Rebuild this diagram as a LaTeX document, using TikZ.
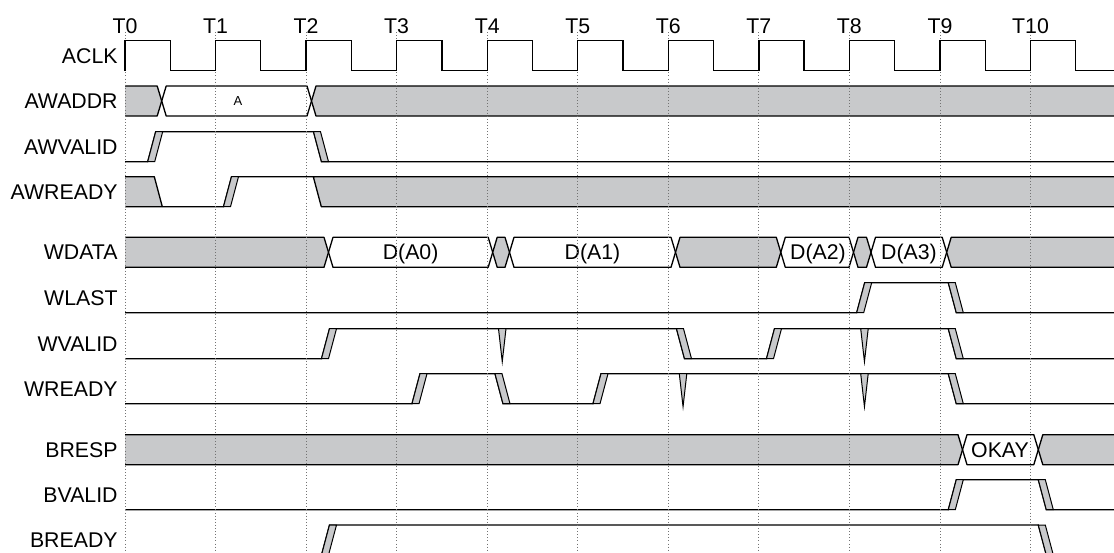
\documentclass[tikz,border=0pt]{standalone}
\usepackage{fontspec}
\setmainfont{Liberation Sans}
\definecolor{busgray}{RGB}{200,201,203}
\tikzset{
  sig/.style={line width=0.65pt},
  slope/.style={fill=busgray, draw, line width=0.5pt},
  bus/.style={draw, line width=0.65pt, line join=bevel},
  graybus/.style={bus, fill=busgray},
  timeline/.style={black!55, line width=0.45pt, dash pattern=on 0.45pt off 1.1pt},
  lbl/.style={font=\fontsize{10.65}{12}\selectfont, inner sep=0pt, text height=7.6pt, text depth=0pt}
}
% transitions, in a row frame with high at 0 and low at 30
\newcommand{\riseedge}[1]{\path[slope] (#1,30) -- (#1+7,30) -- (#1+15,0) -- (#1+8,0) -- cycle;}
\newcommand{\falledge}[1]{\path[slope] (#1,0) -- (#1+7,0) -- (#1+15,30) -- (#1+8,30) -- cycle;}
\newcommand{\glitch}[1]{\path[slope] (#1,0) -- (#1+7.5,0) -- (#1+3.75,33) -- cycle;}
\newcommand{\busseg}[3]{\path[#3] (#1,15) -- (#1+4.5,0) -- (#2-4.5,0) -- (#2,15) -- (#2-4.5,30) -- (#1+4.5,30) -- cycle;}
\begin{document}
\begin{tikzpicture}[x=0.5pt,y=-0.5pt]
  \path[use as bounding box] (0,0) rectangle (1114,552);
  \clip (0,0) rectangle (1114,552);

  \begin{scope}
    \clip (125,0) rectangle (1114,560);
    % AWADDR
    \begin{scope}[shift={(0,86)}]
      \busseg{120}{161.7}{graybus}
      \busseg{161.7}{311.5}{bus}
      \busseg{311.5}{1119}{graybus}
      \node[lbl, font=\fontsize{6.5}{8}\selectfont, text height=4.65pt] (addrA) at (238,15) {A};
    \end{scope}
    % AWVALID
    \begin{scope}[shift={(0,131.7)}]
      \draw[sig] (120,30) -- (147.7,30) -- (155.7,0) -- (313.5,0) -- (321.5,30) -- (1119,30);
      \riseedge{147.7} \falledge{313.5}
    \end{scope}
    % AWREADY
    \begin{scope}[shift={(0,176.7)}]
      \path[graybus] (120,0) -- (154.3,0) -- (162.3,30) -- (120,30) -- cycle;
      \draw[sig] (162.3,30) -- (223.5,30) -- (231.5,0) -- (313.3,0);
      \riseedge{223.5}
      \path[graybus] (313.3,0) -- (1119,0) -- (1119,30) -- (321.3,30) -- cycle;
    \end{scope}
    % WDATA
    \begin{scope}[shift={(0,237.3)}]
      \busseg{120}{328.5}{graybus}
      \busseg{328.5}{492.7}{bus}
      \busseg{492.7}{509.5}{graybus}
      \busseg{509.5}{675.5}{bus}
      \busseg{675.5}{780.8}{graybus}
      \busseg{780.8}{853.5}{bus}
      \busseg{853.5}{871}{graybus}
      \busseg{871}{946.7}{bus}
      \busseg{946.7}{1119}{graybus}
      \node[lbl] (dA0) at (410.6,15) {D(A0)};
      \node[lbl] (dA1) at (592.5,15) {D(A1)};
      \node[lbl] (dA2) at (818,15) {D(A2)};
      \node[lbl] (dA3) at (909,15) {D(A3)};
    \end{scope}
    % WLAST
    \begin{scope}[shift={(0,282.7)}]
      \draw[sig] (120,30) -- (856.7,30) -- (864.7,0) -- (948.3,0) -- (956.3,30) -- (1119,30);
      \riseedge{856.7} \falledge{948.3}
    \end{scope}
    % WVALID
    \begin{scope}[shift={(0,328.7)}]
      \draw[sig] (120,30) -- (321.5,30) -- (329.5,0) -- (676.5,0) -- (684.5,30) -- (766.5,30)
        -- (774.5,0) -- (948.3,0) -- (956.3,30) -- (1119,30);
      \riseedge{321.5} \falledge{676.5} \riseedge{766.5} \falledge{948.3}
      \glitch{498.5} \glitch{860.7}
    \end{scope}
    % WREADY
    \begin{scope}[shift={(0,373.7)}]
      \draw[sig] (120,30) -- (412,30) -- (420,0) -- (495,0) -- (503,30) -- (593,30)
        -- (601,0) -- (948.3,0) -- (956.3,30) -- (1119,30);
      \riseedge{412} \falledge{495} \riseedge{593} \falledge{948.3}
      \glitch{679.3} \glitch{860.7}
    \end{scope}
    % BRESP
    \begin{scope}[shift={(0,434.7)}]
      \busseg{120}{962.5}{graybus}
      \busseg{962.5}{1038.3}{bus}
      \busseg{1038.3}{1119}{graybus}
      \node[lbl] (okay) at (1000,15) {OKAY};
    \end{scope}
    % BVALID
    \begin{scope}[shift={(0,479.7)}]
      \draw[sig] (120,30) -- (948.3,30) -- (956.3,0) -- (1038.3,0) -- (1046.3,30) -- (1119,30);
      \riseedge{948.3} \falledge{1038.3}
    \end{scope}
    % BREADY
    \begin{scope}[shift={(0,525)}]
      \draw[sig] (120,30) -- (321.5,30) -- (329.5,0) -- (1038.3,0) -- (1046.3,30) -- (1119,30);
      \riseedge{321.5} \falledge{1038.3}
    \end{scope}
  \end{scope}

  % clock edges T0..T10
  \foreach \k in {0,...,10}
    \draw[timeline] (125+\k*90.55,32) -- (125+\k*90.55,552);

  % ACLK
  \begin{scope}[shift={(0,40.7)}]
    \draw[sig] (125,30) foreach \k in {0,...,10} {
      -- (125+\k*90.55,0) -- (170.275+\k*90.55,0) -- (170.275+\k*90.55,30) -- (215.55+\k*90.55,30) };
  \end{scope}

  \foreach \k in {0,...,10}
    \node[lbl] (T\k) at (125+\k*90.55,26) {T\k};

  \foreach \sig/\y in {ACLK/55.7, AWADDR/101, AWVALID/146.7, AWREADY/191.7,
                       WDATA/252.3, WLAST/297.7, WVALID/343.7, WREADY/388.7,
                       BRESP/449.7, BVALID/494.7, BREADY/540}
    \node[lbl, anchor=east] (\sig) at (118,\y) {\sig};
\end{tikzpicture}
\end{document}
